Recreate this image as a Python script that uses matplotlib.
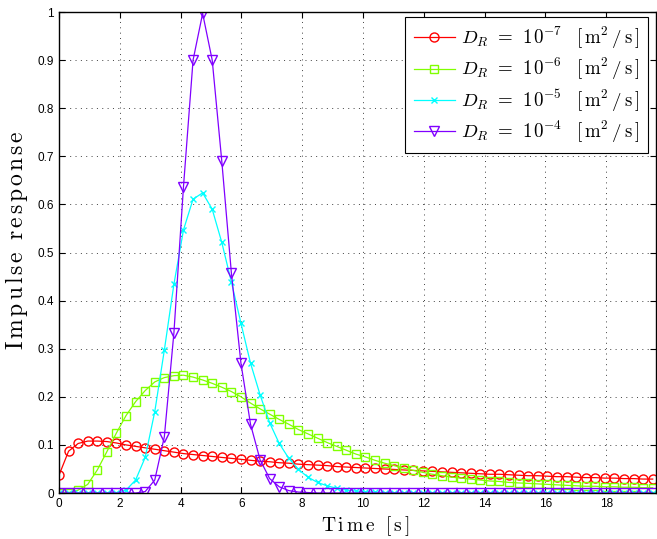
#!/usr/bin/env python

import numpy as np
import matplotlib
matplotlib.use('Agg')
import matplotlib.pyplot as plt

plt.rcParams['mathtext.fontset'] = 'cm'
plt.rcParams['font.family'] = ['Liberation Sans', 'DejaVu Sans']

# time axis (63 samples)
dt = 0.315
t = np.arange(63) * dt

# D_R = 1e-7
red = [0.037, 0.087, 0.103, 0.108, 0.108, 0.107, 0.104, 0.100, 0.097, 0.094,
       0.091, 0.088, 0.085, 0.082, 0.080, 0.078, 0.076, 0.074, 0.072, 0.070,
       0.068, 0.066, 0.065, 0.063, 0.062, 0.060, 0.059, 0.058, 0.057, 0.055,
       0.054, 0.053, 0.052, 0.051, 0.050, 0.049, 0.048, 0.047, 0.046, 0.045,
       0.044, 0.043, 0.042, 0.041, 0.040, 0.039, 0.039, 0.038, 0.037, 0.036,
       0.036, 0.035, 0.034, 0.034, 0.033, 0.032, 0.032, 0.031, 0.031, 0.030,
       0.030, 0.029, 0.029]

# D_R = 1e-6
green = [0.000, 0.001, 0.006, 0.018, 0.048, 0.086, 0.125, 0.161, 0.190, 0.213,
         0.231, 0.240, 0.244, 0.245, 0.241, 0.235, 0.228, 0.220, 0.211, 0.200,
         0.187, 0.175, 0.164, 0.153, 0.143, 0.132, 0.123, 0.114, 0.105, 0.097,
         0.089, 0.081, 0.075, 0.068, 0.062, 0.057, 0.052, 0.047, 0.043, 0.039,
         0.036, 0.033, 0.031, 0.029, 0.027, 0.025, 0.024, 0.022, 0.021, 0.020,
         0.019, 0.018, 0.017, 0.016, 0.015, 0.014, 0.014, 0.013, 0.013, 0.012,
         0.012, 0.011, 0.011]

# D_R = 1e-5
cyan = [0.000, 0.000, 0.000, 0.000, 0.000, 0.000, 0.001, 0.006, 0.027, 0.074,
        0.169, 0.297, 0.434, 0.547, 0.611, 0.624, 0.590, 0.521, 0.439, 0.353,
        0.270, 0.204, 0.146, 0.103, 0.072, 0.049, 0.033, 0.022, 0.015, 0.010,
        0.006, 0.004, 0.003, 0.002, 0.001, 0.001, 0.000, 0.000, 0.000, 0.000,
        0.000, 0.000, 0.000, 0.000, 0.000, 0.000, 0.000, 0.000, 0.000, 0.000,
        0.000, 0.000, 0.000, 0.000, 0.000, 0.000, 0.000, 0.000, 0.000, 0.000,
        0.000, 0.000, 0.000]

# D_R = 1e-4
purple = [0.000, 0.000, 0.000, 0.000, 0.000, 0.000, 0.000, 0.000, 0.000, 0.003,
          0.027, 0.117, 0.333, 0.637, 0.900, 0.997, 0.900, 0.690, 0.458, 0.270,
          0.143, 0.069, 0.030, 0.013, 0.005, 0.002, 0.001, 0.000, 0.000, 0.000,
          0.000, 0.000, 0.000, 0.000, 0.000, 0.000, 0.000, 0.000, 0.000, 0.000,
          0.000, 0.000, 0.000, 0.000, 0.000, 0.000, 0.000, 0.000, 0.000, 0.000,
          0.000, 0.000, 0.000, 0.000, 0.000, 0.000, 0.000, 0.000, 0.000, 0.000,
          0.000, 0.000, 0.000]

exponents = ['-7', '-6', '-5', '-4']
xticks = [0, 2, 4, 6, 8, 10, 12, 14, 16, 18]
yticks = [0, 0.1, 0.2, 0.3, 0.4, 0.5, 0.6, 0.7, 0.8, 0.9, 1]
ytick_labels = ['0', '0.1', '0.2', '0.3', '0.4', '0.5', '0.6', '0.7', '0.8', '0.9', '1']


def spaced(word, sp):
    # roman text with a bit of letter spacing, like the latex labels
    parts = []
    for ch in word:
        if ch == ' ':
            parts.append(r'\ ')
        else:
            parts.append(r'\mathrm{' + ch + '}')
    return '$' + (r'\hspace{%g}' % sp).join(parts) + '$'


def legend_label(e):
    h = r'\hspace{0.18}'
    return (r'$D_R' + r'\hspace{0.4}=\hspace{0.4}' + '1' + r'\hspace{0.08}' + '0^{' + e + '}'
            + r'\ \hspace{0.55}[' + h + r'\mathrm{m}^2' + h + '/' + h
            + r'\mathrm{s}' + h + ']$')


fig = plt.figure(figsize=(6.57, 5.39), dpi=100)
ax = fig.add_axes([0.0898, 0.0853, 0.9092, 0.8924])

ax.plot(t, red, color='#ff0000', marker='o', markersize=6.5, markerfacecolor='none',
        linewidth=0.9, label=legend_label(exponents[0]))
ax.plot(t, green, color='#80ff00', marker='s', markersize=6, markerfacecolor='none',
        linewidth=0.9, label=legend_label(exponents[1]))
ax.plot(t, cyan, color='#00ffff', marker='x', markersize=5, markerfacecolor='none',
        linewidth=0.9, label=legend_label(exponents[2]))
ax.plot(t, purple, color='#8000ff', marker='v', markersize=7, markerfacecolor='none',
        linewidth=0.9, label=legend_label(exponents[3]))

ax.set_xlim(0, 19.65)
ax.set_ylim(0, 1)
ax.set_xticks(xticks)
ax.set_yticks(yticks)
ax.set_yticklabels(ytick_labels)
ax.tick_params(direction='in', top=True, right=True, labelsize=8.5, length=4, width=0.8)
ax.grid(True, color='0.25', linestyle=(0, (1, 4.5)), linewidth=0.7)
for s in ax.spines.values():
    s.set_linewidth(1.0)

ax.set_xlabel(spaced('Time [s]', 0.17), fontsize=14, labelpad=2)
ax.set_ylabel(spaced('Impulse response', 0.14), fontsize=17, labelpad=4)
ax.xaxis.set_label_coords(0.513, -0.045)
ax.yaxis.set_label_coords(-0.048, 0.525)

leg = ax.legend(loc='upper right', bbox_to_anchor=(648 / 657, 1 - 16.5 / 539),
                bbox_transform=fig.transFigure, borderaxespad=0,
                fontsize=13.6, fancybox=False, framealpha=1, edgecolor='black',
                handlelength=2.2, handletextpad=0.3, labelspacing=0.28, borderpad=0.45)
leg.get_frame().set_linewidth(0.8)

plt.savefig('out.png', dpi=100)
